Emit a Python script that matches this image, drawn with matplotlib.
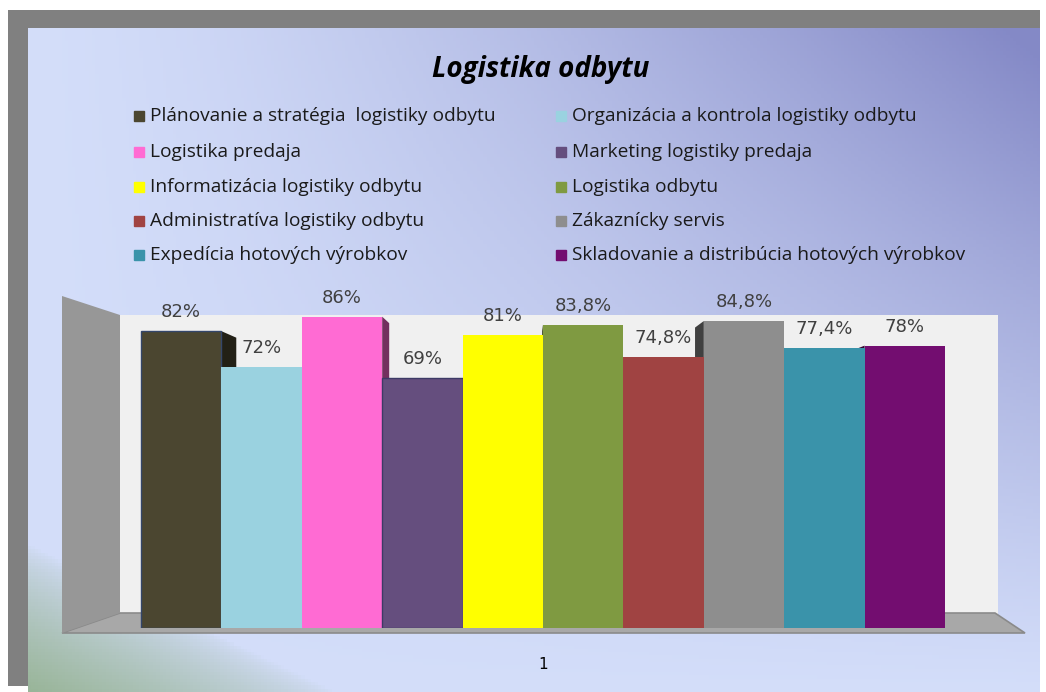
import numpy as np
import matplotlib
matplotlib.use("Agg")
import matplotlib.pyplot as plt
from matplotlib.patches import Polygon, Rectangle
import matplotlib.colors as mcolors

# data
categories = ["Plánovanie a stratégia  logistiky odbytu",
              "Organizácia a kontrola logistiky odbytu",
              "Logistika predaja",
              "Marketing logistiky predaja",
              "Informatizácia logistiky odbytu",
              "Logistika odbytu",
              "Administratíva logistiky odbytu",
              "Zákaznícky servis",
              "Expedícia hotových výrobkov",
              "Skladovanie a distribúcia hotových výrobkov"]
values = [82, 72, 86, 69, 81, 83.8, 74.8, 84.8, 77.4, 78]
value_labels = ["82%", "72%", "86%", "69%", "81%", "83,8%", "74,8%", "84,8%", "77,4%", "78%"]
colors = ["#4b4630", "#9ad2e0", "#ff6bd3", "#654e7e", "#ffff00",
          "#7f9a41", "#a04342", "#8e8e8e", "#3a93aa", "#730d70"]
title = "Logistika odbytu"
group_label = "1"

W, H = 1046, 692
fig = plt.figure(figsize=(W / 100, H / 100), dpi=100, facecolor="white")


def fx(px):
    return px / W


def fy(py):
    return 1 - py / H


def fpt(px, py):
    return (fx(px), fy(py))


# gray frame behind the slide
frame = fig.add_axes([fx(8), fy(686), fx(1040) - fx(8), fy(10) - fy(686)], zorder=-2)
frame.set_facecolor("#808080")
frame.set_xticks([])
frame.set_yticks([])
for s in frame.spines.values():
    s.set_visible(False)

# gradient background
bg = fig.add_axes([fx(28), 0, fx(1040) - fx(28), fy(28)], zorder=-1)
nx, ny = 300, 200
xx, yy = np.meshgrid(np.linspace(0, 1, nx), np.linspace(0, 1, ny))
light = np.array([0.83, 0.87, 0.98])
dark = np.array([0.52, 0.54, 0.78])
green = np.array([0.60, 0.71, 0.60])
t = np.clip(xx ** 1.4 * (1 - yy) ** 1.1 * 1.05, 0, 1)
img = light[None, None, :] * (1 - t[..., None]) + dark[None, None, :] * t[..., None]
gw = np.clip(1 - (xx / 0.3 + (1 - yy) / 0.22), 0, 1) ** 0.7
img = img * (1 - gw[..., None]) + green[None, None, :] * gw[..., None]
bg.imshow(img, aspect="auto", extent=(0, 1, 1, 0))
bg.set_axis_off()

# plot area (back wall)
ax = fig.add_axes([fx(120), fy(628), fx(998) - fx(120), fy(315) - fy(628)], zorder=2)
ax.set_facecolor("#f0f0f0")
x = np.arange(len(values))
ax.set_xlim(-0.5 - 21 / 80.4, 9.5 + 53 / 80.4)
ax.set_ylim(0, (628 - 315) / 3.62)
for s in ax.spines.values():
    s.set_visible(False)
ax.set_yticks([])
ax.set_xticks([4.5])
ax.set_xticklabels([group_label], fontsize=11, family="DejaVu Sans")
ax.tick_params(axis="x", length=0, pad=21)

# floor and left wall
floor = Polygon([fpt(62, 633), fpt(1025, 633), fpt(995, 613), fpt(120, 613)],
                closed=True, transform=fig.transFigure, facecolor="#a8a8a8",
                edgecolor="#8a8a8a", lw=1.2, clip_on=False, zorder=0.5)
ax.add_artist(floor)
lwall = Polygon([fpt(62, 296), fpt(120, 315), fpt(120, 613), fpt(62, 633)],
                closed=True, transform=fig.transFigure, facecolor="#979797",
                edgecolor="none", clip_on=False, zorder=0.5)
ax.add_artist(lwall)

# side faces for a bit of depth
vp = 525
for i, v in enumerate(values):
    if i <= 4:
        edge = i + 0.5
        sign = 1
    else:
        edge = i - 0.5
        sign = -1
    edge_px = 120 + (edge - ax.get_xlim()[0]) * 80.4
    d = 0.049 * abs(edge_px - vp) / 80.4
    c = np.array(mcolors.to_rgb(colors[i])) * 0.45
    ax.add_patch(Polygon([(edge, v), (edge + sign * d, v - 1.8),
                          (edge + sign * d, 0), (edge, 0)],
                         closed=True, facecolor=c, edgecolor="none", zorder=1))

bars = ax.bar(x, values, width=1.0, color=colors, zorder=2, linewidth=0)
bars[0].set_edgecolor("#34466a")
bars[0].set_linewidth(1.0)
bars[3].set_edgecolor("#3d3a66")
bars[3].set_linewidth(1.0)

for i, v in enumerate(values):
    ax.annotate(value_labels[i], (x[i], v), xytext=(0, 13.7), textcoords="offset points",
                ha="center", va="center", fontsize=13, color="#404040",
                family="DejaVu Sans", annotation_clip=False)

# title
fig.text(fx(541), fy(70), title, ha="center", va="center", fontsize=20,
         fontweight="bold", fontstyle="italic", family="Open Sans", color="black")

# legend, two columns row by row
rows_y = [116, 152, 187, 221, 255]
cols_x = [134, 556]
for i, name in enumerate(categories):
    r, c = divmod(i, 2)
    px, py = cols_x[c], rows_y[r]
    fig.patches.append(Rectangle(fpt(px, py + 5), fx(10), 10 / H,
                                 transform=fig.transFigure, color=colors[i], zorder=3))
    fig.text(fx(px + 16), fy(py), name, ha="left", va="center", fontsize=13.8,
             family="Open Sans", color="#1a1a1a", zorder=3)

fig.savefig("out.png", dpi=100, facecolor="white")
